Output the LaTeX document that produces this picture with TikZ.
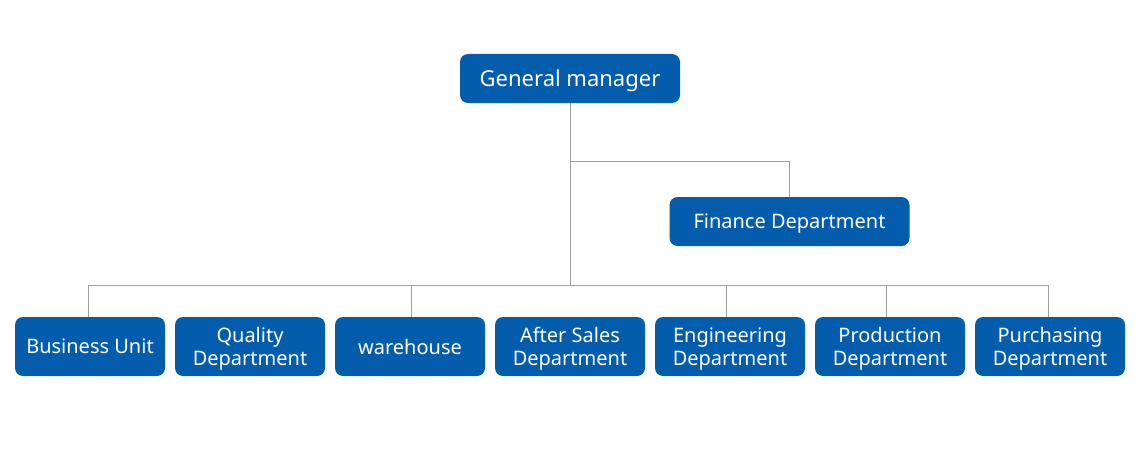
\documentclass[tikz,border=0pt]{standalone}
\usepackage{fontspec}
\setmainfont{Noto Sans}
\definecolor{boxblue}{HTML}{045CAD}
\definecolor{linegray}{HTML}{A0A0A0}
\tikzset{
  box/.style={fill=boxblue, draw=none, rounded corners=8pt, text=white, align=center, inner sep=0pt, text depth=0pt, font=\fontsize{20}{23.5}\selectfont},
  conn/.style={draw=linegray, line width=1pt}
}
\begin{document}
\begin{tikzpicture}[x=1pt,y=-1pt]
\useasboundingbox (0,0) rectangle (1140,460);
\node[box, minimum width=220pt, minimum height=49pt, font=\fontsize{22}{26}\selectfont] (gm) at (570,78.5) {General manager};
\node[box, minimum width=240pt, minimum height=49pt] (fin) at (789.5,221.5) {Finance Department};
\node[box, minimum width=150pt, minimum height=59pt] (b1) at (90,346.5) {Business Unit};
\node[box, minimum width=150pt, minimum height=59pt] (b2) at (250,346.5) {Quality\\Department};
\node[box, minimum width=150pt, minimum height=59pt] (b3) at (410,346.5) {warehouse};
\node[box, minimum width=150pt, minimum height=59pt] (b4) at (570,346.5) {After Sales\\Department};
\node[box, minimum width=150pt, minimum height=59pt] (b5) at (730,346.5) {Engineering\\Department};
\node[box, minimum width=150pt, minimum height=59pt] (b6) at (890,346.5) {Production\\Department};
\node[box, minimum width=150pt, minimum height=59pt] (b7) at (1050,346.5) {Purchasing\\Department};
\coordinate (j1) at (570,161);
\coordinate (busC) at (570,285);
\coordinate (busR) at (1048,285);
\draw[conn] (gm.south) -- (busC);
\draw[conn] (j1) -| (fin.north);
\draw[conn] ([xshift=-2pt]b1.north) |- (busR) -- ([xshift=-2pt]b7.north);
\draw[conn] ([xshift=1pt]b3.north) -- ++(0,-32);
\draw[conn] ([xshift=-4pt]b5.north) -- ++(0,-32);
\draw[conn] ([xshift=-4pt]b6.north) -- ++(0,-32);
\end{tikzpicture}
\end{document}
